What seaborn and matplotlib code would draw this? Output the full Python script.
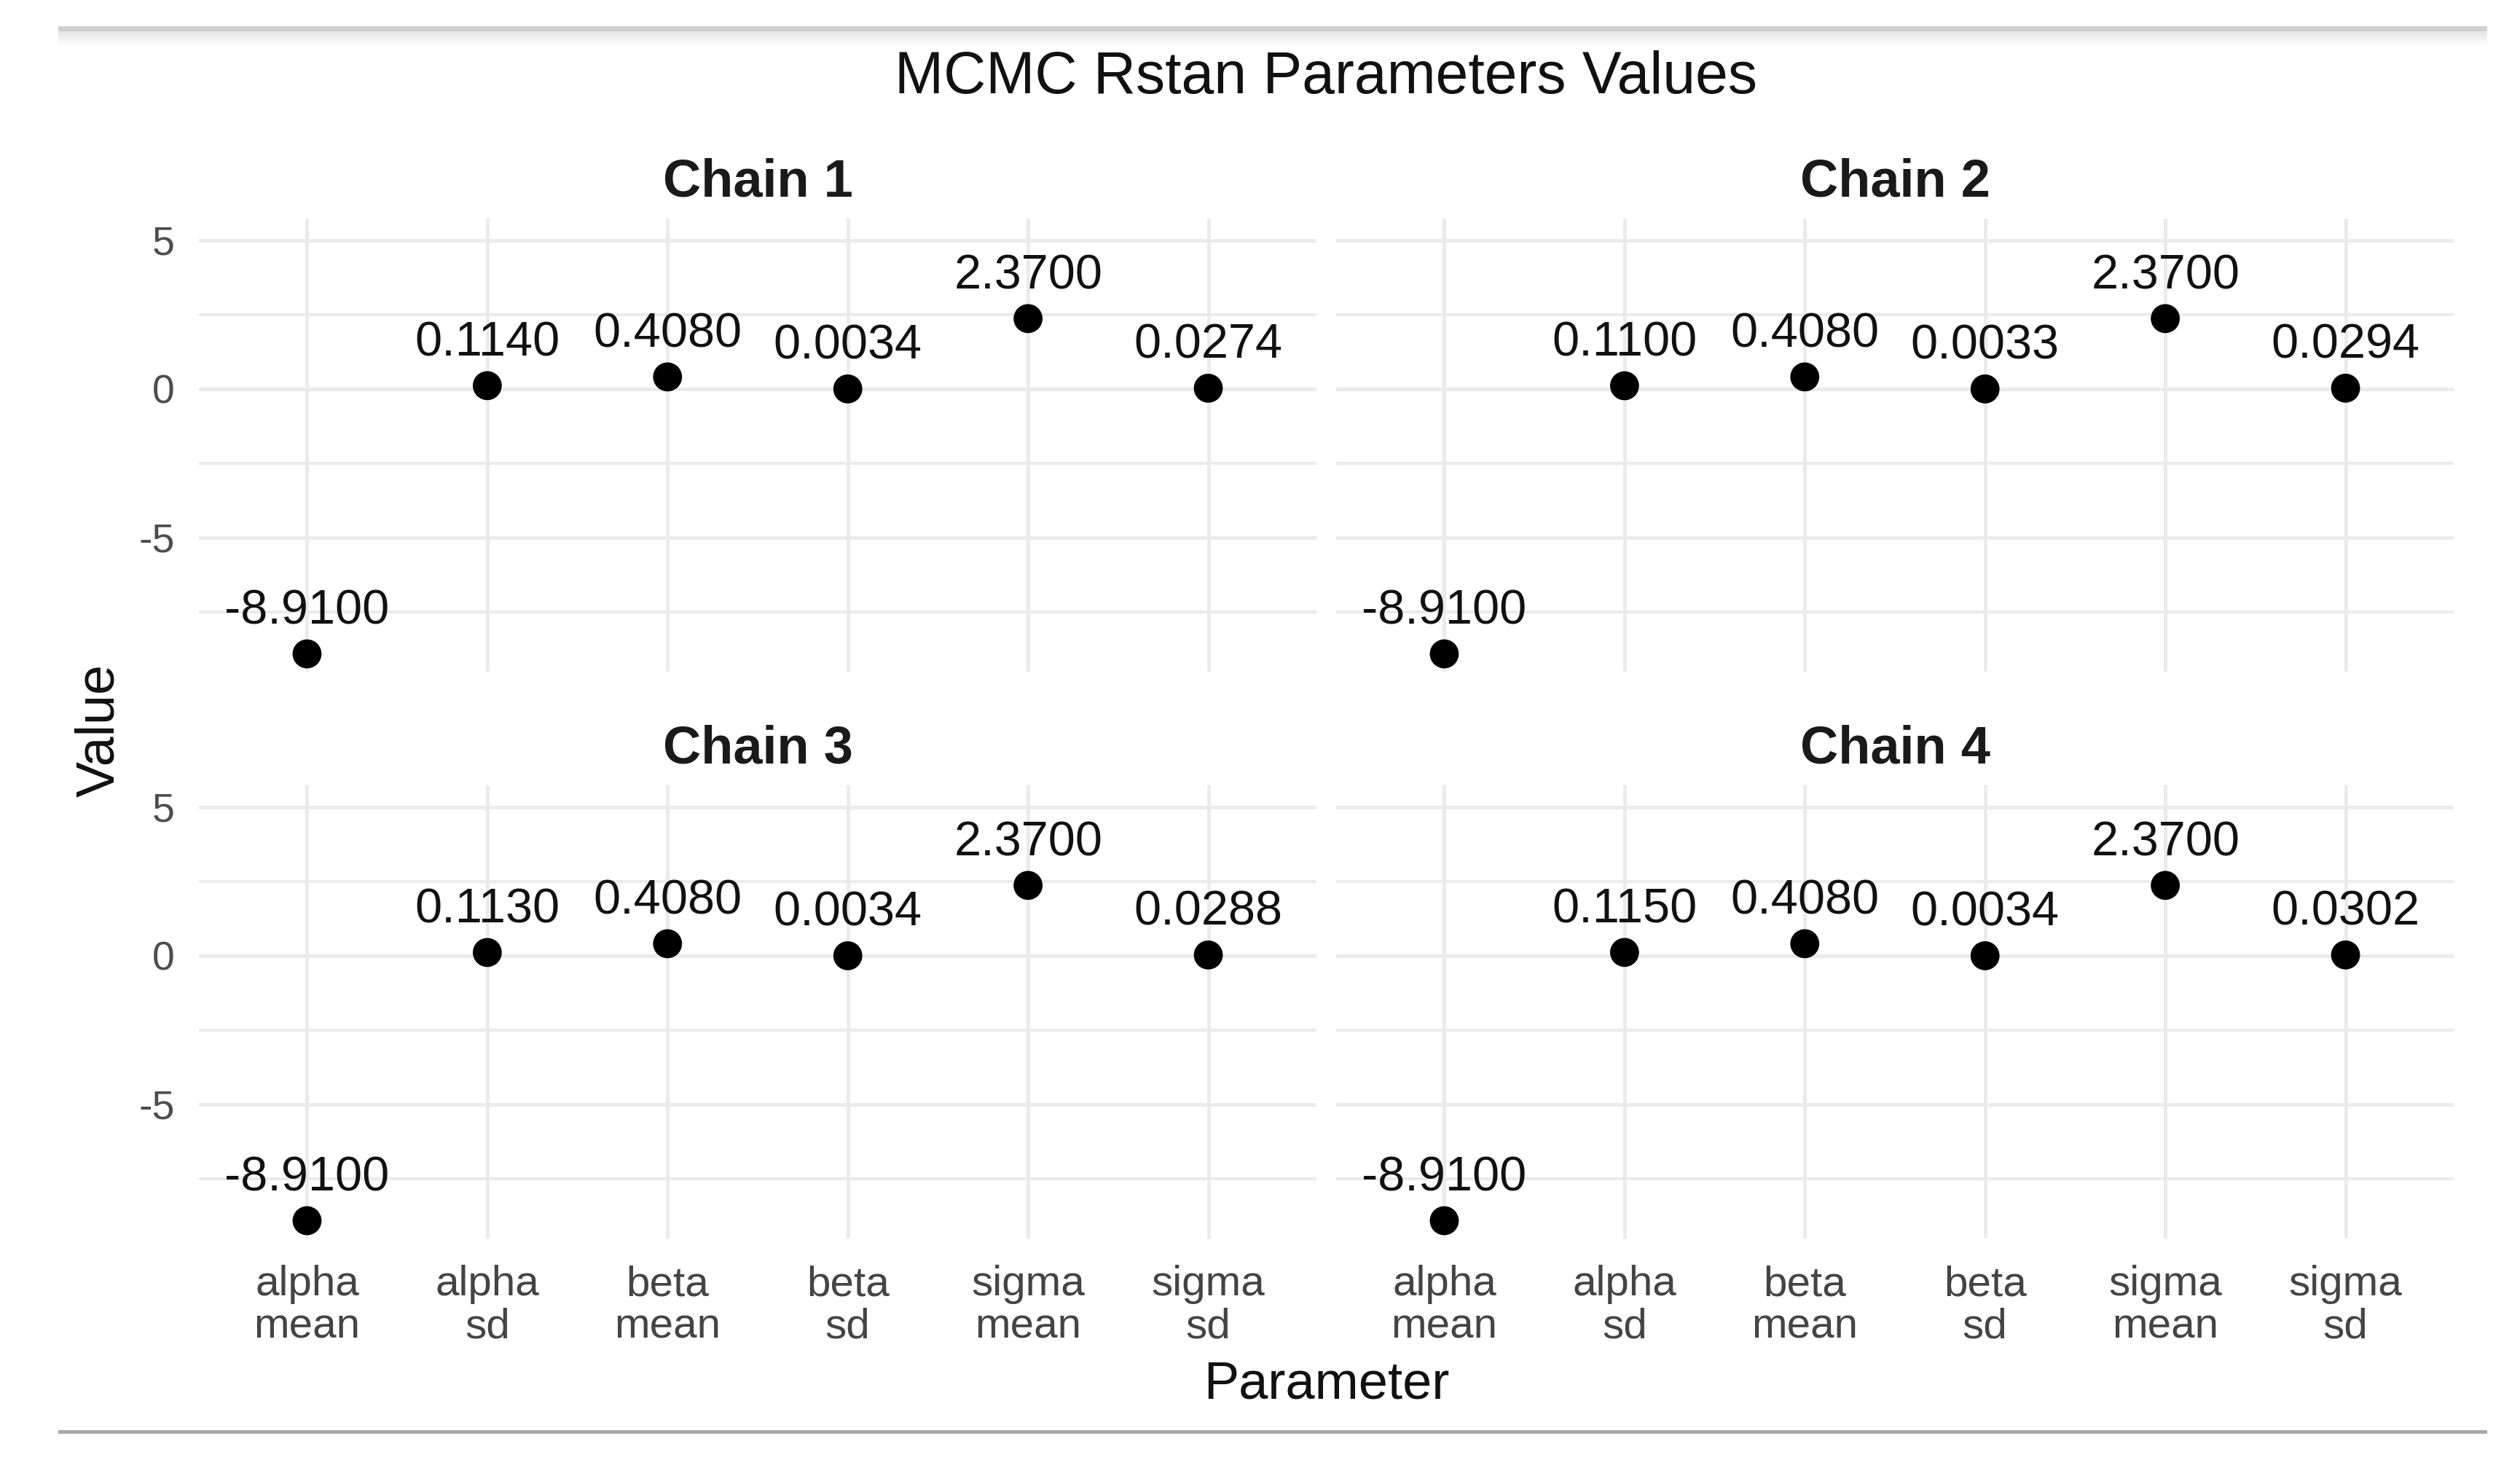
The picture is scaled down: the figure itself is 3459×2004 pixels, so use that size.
import matplotlib
matplotlib.use("Agg")
import matplotlib.pyplot as plt
import seaborn as sns
import pandas as pd
from matplotlib.patches import Rectangle

# ---------------- data ----------------
parameters = ["alpha_mean", "alpha_sd", "beta_mean", "beta_sd", "sigma_mean", "sigma_sd"]
param_labels = ["alpha\nmean", "alpha\nsd", "beta\nmean", "beta\nsd", "sigma\nmean", "sigma\nsd"]
chains = ["Chain 1", "Chain 2", "Chain 3", "Chain 4"]
chain1_values = [-8.91, 0.1140, 0.4080, 0.0034, 2.37, 0.0274]
chain2_values = [-8.91, 0.1100, 0.4080, 0.0033, 2.37, 0.0294]
chain3_values = [-8.91, 0.1130, 0.4080, 0.0034, 2.37, 0.0288]
chain4_values = [-8.91, 0.1150, 0.4080, 0.0034, 2.37, 0.0302]
y_ticks = [-5, 0, 5]
y_tick_labels = ["-5", "0", "5"]
y_minor = [-7.5, -2.5, 2.5]

chain_values = [chain1_values, chain2_values, chain3_values, chain4_values]
rows = []
for ch, vals in zip(chains, chain_values):
    for p, v in zip(parameters, vals):
        rows.append({"Chain": ch, "Parameter": p, "Value": v})
df = pd.DataFrame(rows)

# ---------------- style ----------------
sns.set_style("white")
plt.rcParams["font.family"] = ["Liberation Sans", "DejaVu Sans"]
plt.rcParams["axes.unicode_minus"] = False

W, H = 3459, 2004
fig = plt.figure(figsize=(W / 100, H / 100), dpi=100)

col_left = [273 / W, 1834 / W]
col_w = 1534 / W
row_bottom = [1 - 922 / H, 1 - 1700 / H]
row_h = 622 / H

grid_color = "#ebebeb"
tick_color = "#4d4d4d"

for k, ch in enumerate(chains):
    r, c = divmod(k, 2)
    ax = fig.add_axes([col_left[c], row_bottom[r], col_w, row_h])
    sub = df[df["Chain"] == ch]
    sns.scatterplot(data=sub, x="Parameter", y="Value", ax=ax, color="black",
                    s=820, edgecolor="none", linewidth=0, zorder=3, legend=False)
    ax.set_xlim(-0.6, 5.6)
    ax.set_ylim(-9.51, 5.735)
    ax.set_xticks(range(len(parameters)))
    ax.set_yticks(y_ticks)
    ax.set_yticks(y_minor, minor=True)
    ax.grid(True, which="major", color=grid_color, lw=3.6)
    ax.grid(True, which="minor", axis="y", color=grid_color, lw=3.0)
    ax.set_axisbelow(True)
    for s in ax.spines.values():
        s.set_visible(False)
    ax.tick_params(axis="both", which="both", length=0)
    ax.tick_params(axis="y", pad=24, labelsize=40, labelcolor=tick_color)
    ax.tick_params(axis="x", pad=26, labelsize=42, labelcolor="#444444")
    if r == 1:
        ax.set_xticklabels(param_labels, linespacing=1.1)
    else:
        ax.set_xticklabels([])
    if c == 0:
        ax.set_yticklabels(y_tick_labels)
    else:
        ax.set_yticklabels([])
    ax.set_xlabel("")
    ax.set_ylabel("")
    ax.set_title(ch, fontsize=52, fontweight="bold", color="#1a1a1a", pad=22)
    for i, v in enumerate(sub["Value"].tolist()):
        ax.annotate(f"{v:.4f}", (i, v), xytext=(0, 29.5), textcoords="offset points",
                    ha="center", va="baseline", fontsize=48, color="#111111")

# titles and axis labels
fig.text(0.5263, 1 - 128 / H, "MCMC Rstan Parameters Values", ha="center", va="baseline",
         fontsize=58, color="#111111")
fig.text(0.5263, 1 - 1919 / H, "Parameter", ha="center", va="baseline",
         fontsize=52, color="#111111")
fig.text(137 / W, 0.5, "Value", ha="center", va="center", rotation=90,
         fontsize=53, color="#111111")

# frame rules at top and bottom
x0, x1 = 80 / W, 3414 / W
fig.add_artist(Rectangle((x0, 1 - 43 / H), x1 - x0, 7 / H, transform=fig.transFigure,
                         facecolor="#cfcfcf", edgecolor="none"))
fades = ["#e6e6e6", "#ececec", "#f2f2f2", "#f7f7f7", "#fbfbfb"]
for j, col in enumerate(fades):
    fig.add_artist(Rectangle((x0, 1 - (47 + 4 * j) / H), x1 - x0, 4 / H,
                             transform=fig.transFigure, facecolor=col, edgecolor="none"))
fig.add_artist(Rectangle((x0, 1 - 1968 / H), x1 - x0, 5 / H, transform=fig.transFigure,
                         facecolor="#aaaaaa", edgecolor="none"))

fig.savefig("out.png", dpi=100, facecolor="white")
